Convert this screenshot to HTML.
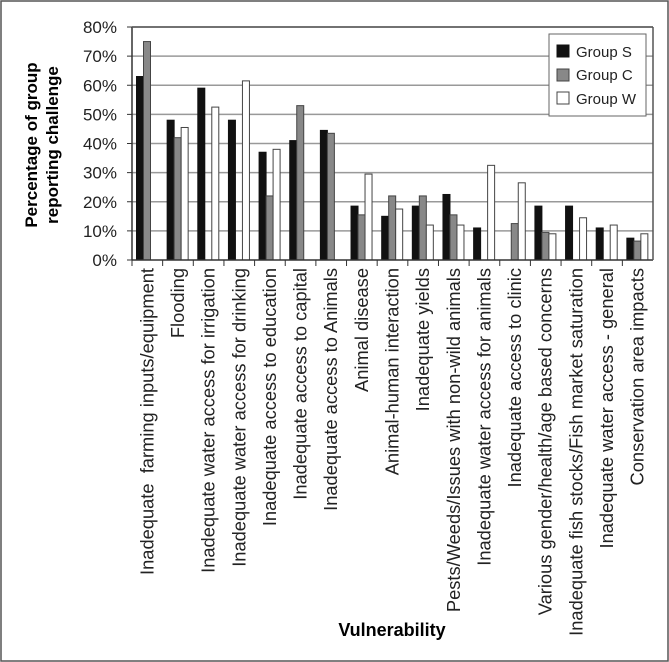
<!DOCTYPE html>
<html><head><meta charset="utf-8"><style>
html,body{margin:0;padding:0;background:#fff;}
svg{display:block;font-family:"Liberation Sans",sans-serif;}
.xl{white-space:pre;}
</style></head><body>
<svg id="chart" width="669" height="662">
<rect x="1" y="1" width="667" height="660" fill="#fff" stroke="#555" stroke-width="1.5"/>
<g id="grid"></g><g id="bars"></g><g id="axes"></g>
<text transform="translate(37,145) rotate(-90)" text-anchor="middle" font-weight="bold" font-size="17"><tspan x="0" y="0">Percentage of group</tspan><tspan x="0" y="21">reporting challenge</tspan></text>
<text x="392" y="636" text-anchor="middle" font-weight="bold" font-size="18">Vulnerability</text>
<g>
<rect x="549" y="34" width="97" height="82" fill="#fff" stroke="#666"/>
<rect x="557" y="45" width="12" height="12" fill="#111" stroke="#111"/>
<text x="576" y="57" font-size="15" fill="#222">Group S</text>
<rect x="557" y="69" width="12" height="12" fill="#888" stroke="#444"/>
<text x="576" y="80" font-size="15" fill="#222">Group C</text>
<rect x="557" y="92" width="12" height="12" fill="#fff" stroke="#444"/>
<text x="576" y="104" font-size="15" fill="#222">Group W</text>
</g>
</svg>
<script>
const categories=["Inadequate  farming inputs/equipment","Flooding","Inadequate water access for irrigation","Inadequate water access for drinking","Inadequate access to education","Inadequate access to capital","Inadequate access to Animals","Animal disease","Animal-human interaction","Inadequate yields","Pests/Weeds/Issues with non-wild animals","Inadequate water access for animals","Inadequate access to clinic","Various gender/health/age based concerns","Inadequate fish stocks/Fish market saturation","Inadequate water access - general","Conservation area impacts"];
const groupS=[63,48,59,48,37,41,44.5,18.5,15,18.5,22.5,11,0,18.5,18.5,11,7.5];
const groupC=[75,42,0,0,22,53,43.5,15.5,22,22,15.5,0,12.5,9.5,0,0,6.5];
const groupW=[0,45.5,52.5,61.5,38,0,0,29.5,17.5,12,12,32.5,26.5,9,14.5,12,9];
const yTicks=[0,10,20,30,40,50,60,70,80];
const NS="http://www.w3.org/2000/svg";
const L=132,R=653,T=27,B=260,YMAX=80;
const y=v=>B-(v/YMAX)*(B-T);
const cw=(R-L)/categories.length;
const x=i=>L+i*cw;
function mk(tag,attrs,parent){const e=document.createElementNS(NS,tag);for(const k in attrs)e.setAttribute(k,attrs[k]);parent.appendChild(e);return e;}
const grid=document.getElementById('grid'),bars=document.getElementById('bars'),axes=document.getElementById('axes');
yTicks.forEach(t=>{
  if(t>0){const g=mk('line',{x1:L,x2:R,y1:y(t),y2:y(t),stroke:'#999','stroke-width':1.5},grid);
  
  }
  const tk=mk('line',{x1:L-5,x2:L,y1:y(t),y2:y(t),stroke:'#333'},axes);
  
  
  const lb=mk('text',{x:L-15,y:y(t)+6,'text-anchor':'end','font-size':17,fill:'#222'},axes);
  lb.textContent=t+'%';
  
  
});
const series=[[groupS,'#111','#111','s'],[groupC,'#888','#444','c'],[groupW,'#fff','#444','w']];
const bw=7;
categories.forEach((c,i)=>{
  series.forEach((s,j)=>{
    const v=s[0][i]; if(v<=0) return;
    const r=mk('rect',{x:x(i)+4.5+j*bw,y:y(v),width:bw,height:B-y(v),fill:s[1],stroke:s[2],'stroke-width':1},bars);
    
    
  });
  const tk=mk('line',{x1:x(i),x2:x(i),y1:B,y2:B+6,stroke:'#333'},axes);
  
  
  const cx=x(i)+cw/2+6;
  const lb=mk('text',{class:'xl',transform:`translate(${cx},268) rotate(-90)`,'text-anchor':'end','font-size':18.3,fill:'#222'},axes);
  lb.textContent=c;
  
  
});
const ax=mk('line',{x1:L,x2:L,y1:T,y2:B,stroke:'#333','stroke-width':1.5},axes);


const bx=mk('line',{x1:L,x2:R,y1:B,y2:B,stroke:'#333','stroke-width':1.5},axes);


const rt=mk('line',{x1:R,x2:R,y1:T,y2:B,stroke:'#555','stroke-width':1.5},axes);


const tp=mk('line',{x1:L,x2:R,y1:T,y2:T,stroke:'#555','stroke-width':1.5},axes);


</script>
</body></html>
